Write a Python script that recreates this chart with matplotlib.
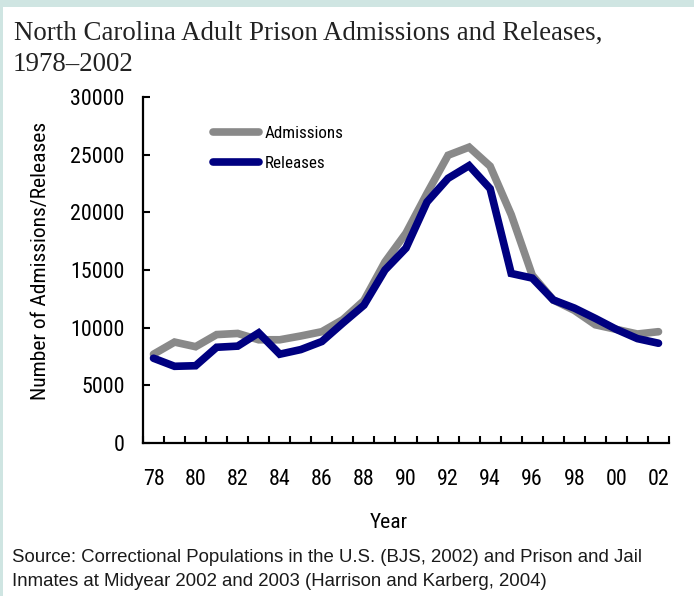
import matplotlib
matplotlib.use("Agg")
import matplotlib.pyplot as plt
from matplotlib.patches import Rectangle
from matplotlib.textpath import TextPath
from matplotlib.font_manager import FontProperties, findfont
import numpy as np

years = ["78", "79", "80", "81", "82", "83", "84", "85", "86", "87", "88", "89",
         "90", "91", "92", "93", "94", "95", "96", "97", "98", "99", "00", "01", "02"]
admissions = [7700, 8750, 8350, 9400, 9500, 8950, 8950, 9280, 9650, 10700, 12350,
              15700, 18200, 21650, 24950, 25650, 24000, 19800, 14550, 12400, 11500,
              10250, 9850, 9450, 9650]
releases = [7350, 6650, 6700, 8300, 8400, 9550, 7700, 8100, 8800, 10400, 11950,
            15000, 16900, 20900, 22950, 24050, 22050, 14700, 14300, 12400, 11700,
            10800, 9850, 9050, 8650]
yticks = [0, 5000, 10000, 15000, 20000, 25000, 30000]


def pick_narrow():
    for fam in ["Liberation Sans Narrow", "Arial Narrow", "Roboto Condensed",
                "Nimbus Sans Narrow", "Open Sans Condensed"]:
        try:
            findfont(FontProperties(family=fam), fallback_to_default=False)
            return fam
        except Exception:
            pass
    return "Liberation Sans"


NARROW = pick_narrow()
REGULAR = "Liberation Sans"
SERIF = "Liberation Serif"
plt.rcParams["font.family"] = [NARROW, "DejaVu Sans"]


def fit(s, target_px, family):
    w = TextPath((0, 0), s, size=10, prop=FontProperties(family=family)).get_extents().width
    return target_px * 0.72 * 10 / w


W, H = 694, 596
fig = plt.figure(figsize=(W / 100, H / 100), dpi=100)
fig.patch.set_facecolor("white")

border = "#cfe5e2"
fig.add_artist(Rectangle((0, 1 - 7 / H), 1, 7 / H, transform=fig.transFigure,
                         facecolor=border, edgecolor="none", zorder=0))
fig.add_artist(Rectangle((0, 0), 3 / W, 1, transform=fig.transFigure,
                         facecolor=border, edgecolor="none", zorder=0))

AX_L, AX_R, AX_T, AX_B = 143, 669, 97, 443
ax = fig.add_axes([AX_L / W, 1 - AX_B / H, (AX_R - AX_L) / W, (AX_B - AX_T) / H])
x = np.arange(len(years))
ax.plot(x, admissions, color="#898989", lw=5.5, solid_capstyle="round",
        solid_joinstyle="miter", label="Admissions", zorder=2)
ax.plot(x, releases, color="#000080", lw=5.5, solid_capstyle="round",
        solid_joinstyle="miter", label="Releases", zorder=3)

f_tick = fit("30000", 52, NARROW)
ax.set_xlim(-0.5, len(years) - 0.5)
ax.set_ylim(0, 30000)
ax.set_yticks(yticks)
ax.set_yticklabels([str(v) for v in yticks])
ax.set_xticks(np.arange(-0.5, len(years), 1.0))
ax.set_xticklabels([])
ax.set_xticks(x[::2], minor=True)
ax.set_xticklabels(years[::2], minor=True)
ax.tick_params(axis="x", which="major", direction="in", length=5, width=1.5)
ax.tick_params(axis="x", which="minor", length=0, pad=19, labelsize=f_tick)
ax.tick_params(axis="y", direction="in", length=5, width=1.5, pad=13.2, labelsize=f_tick)

for s in ["top", "right"]:
    ax.spines[s].set_visible(False)
for s in ["left", "bottom"]:
    ax.spines[s].set_linewidth(1.6)

f_lab = fit("Number of Admissions/Releases", 276, NARROW)
fig.text(41 / W, 1 - 261 / H, "Number of Admissions/Releases", rotation=90,
         ha="center", va="center", fontsize=f_lab)
fig.text(389 / W, 1 - 528 / H, "Year", ha="center", va="baseline", fontsize=f_lab)

f_leg = fit("Admissions", 78, NARROW)
fs_px = f_leg * 100 / 72
lw_px = 5.5 * 100 / 72
hl = (263 - 209 - lw_px) / fs_px
ax.legend(loc="upper left",
          bbox_to_anchor=((209 + lw_px / 2 - 0.4 * fs_px - AX_L) / (AX_R - AX_L),
                          (AX_B - (131.7 - 0.4 * fs_px - 0.325 * fs_px)) / (AX_B - AX_T)),
          frameon=False, fontsize=f_leg, handlelength=hl,
          handletextpad=5.5 / fs_px, labelspacing=(31.3 - 0.94 * fs_px) / fs_px,
          borderaxespad=0, borderpad=0.4)

f_title = fit("North Carolina Adult Prison Admissions and Releases,", 588, SERIF)
fig.text(14 / W, 1 - 40 / H, "North Carolina Adult Prison Admissions and Releases,",
         family=SERIF, fontsize=f_title, color="#222222", ha="left", va="baseline")
fig.text(13 / W, 1 - 71 / H, "1978\u20132002",
         family=SERIF, fontsize=f_title, color="#222222", ha="left", va="baseline")

f_src = fit("Source: Correctional Populations in the U.S. (BJS, 2002) and Prison and Jail",
            630, REGULAR)
fig.text(12 / W, 1 - 562 / H,
         "Source: Correctional Populations in the U.S. (BJS, 2002) and Prison and Jail",
         family=REGULAR, fontsize=f_src, color="#1a1a1a", ha="left", va="baseline")
fig.text(12 / W, 1 - 586 / H,
         "Inmates at Midyear 2002 and 2003 (Harrison and Karberg, 2004)",
         family=REGULAR, fontsize=f_src, color="#1a1a1a", ha="left", va="baseline")

fig.savefig("out.png", dpi=100, facecolor="white")
